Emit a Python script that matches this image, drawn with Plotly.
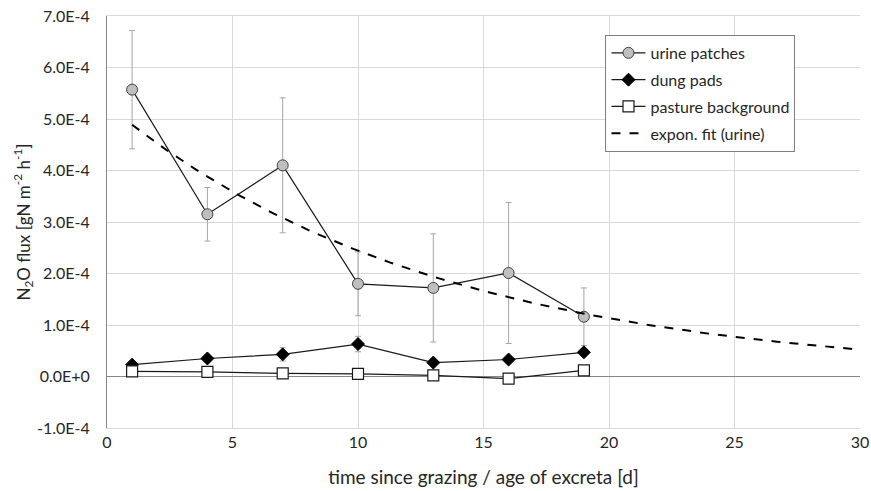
import numpy as np
import plotly.graph_objects as go

# sampling days (age of excreta)
days = [1, 4, 7, 10, 13, 16, 19]

# N2O flux, gN m-2 h-1
urine_flux = [5.57e-4, 3.15e-4, 4.10e-4, 1.80e-4, 1.72e-4, 2.01e-4, 1.16e-4]
urine_err = [1.15e-4, 0.52e-4, 1.31e-4, 0.62e-4, 1.05e-4, 1.37e-4, 0.56e-4]

dung_flux = [0.23e-4, 0.35e-4, 0.43e-4, 0.63e-4, 0.27e-4, 0.33e-4, 0.47e-4]
dung_err = [0.06e-4, 0.06e-4, 0.13e-4, 0.15e-4, 0.06e-4, 0.06e-4, 0.06e-4]

pasture_flux = [0.10e-4, 0.09e-4, 0.06e-4, 0.05e-4, 0.02e-4, -0.04e-4, 0.12e-4]

y_tick_vals = [-1e-4, 0, 1e-4, 2e-4, 3e-4, 4e-4, 5e-4, 6e-4, 7e-4]
y_tick_text = ["-1.0E-4", "0.0E+0", "1.0E-4", "2.0E-4", "3.0E-4",
               "4.0E-4", "5.0E-4", "6.0E-4", "7.0E-4"]
x_tick_vals = [0, 5, 10, 15, 20, 25, 30]

# exponential trendline fitted to the urine patch means (log-linear least squares),
# extended forward to day 30
slope, intercept = np.polyfit(days, np.log(urine_flux), 1)
fit_x = np.linspace(days[0], 30, 150)
fit_y = np.exp(intercept) * np.exp(slope * fit_x)

FONT = "Lato"
TEXT = "#262626"
GRID = "#d9d9d9"
AXIS = "#868686"
ERR = "#a6a6a6"

fig = go.Figure()

fig.add_trace(go.Scatter(
    x=days, y=urine_flux, name="urine patches", mode="lines+markers",
    legendgroup="a",
    line=dict(color="#1a1a1a", width=1.2),
    marker=dict(symbol="circle", size=11, color="#bfbfbf",
                line=dict(color="#404040", width=1)),
    error_y=dict(type="data", array=urine_err, visible=True,
                 color=ERR, thickness=1, width=3),
))
fig.add_trace(go.Scatter(
    x=days, y=dung_flux, name="dung pads", mode="lines+markers",
    legendgroup="b",
    line=dict(color="#1a1a1a", width=1.2),
    marker=dict(symbol="diamond", size=10, color="#000000",
                line=dict(color="#000000", width=1)),
    error_y=dict(type="data", array=dung_err, visible=True,
                 color=ERR, thickness=1, width=3),
))
fig.add_trace(go.Scatter(
    x=days, y=pasture_flux, name="pasture background", mode="lines+markers",
    legendgroup="c",
    line=dict(color="#1a1a1a", width=1.2),
    marker=dict(symbol="square", size=11, color="#ffffff",
                line=dict(color="#1a1a1a", width=1.2)),
))
fig.add_trace(go.Scatter(
    x=fit_x, y=fit_y, name="expon. fit (urine)", mode="lines",
    legendgroup="d",
    line=dict(color="#000000", width=2, dash="dash"),
))

fig.update_layout(
    width=871, height=491,
    margin=dict(l=107, r=11, t=16, b=63, autoexpand=False),
    paper_bgcolor="#ffffff", plot_bgcolor="#ffffff",
    font=dict(family=FONT, size=15, color=TEXT),
    showlegend=True,
    legend=dict(
        x=0.662, y=0.954, xanchor="left", yanchor="top",
        bgcolor="#ffffff", bordercolor="#7f7f7f", borderwidth=1,
        font=dict(family=FONT, size=16, color=TEXT),
        tracegroupgap=3, itemwidth=34,
    ),
)

fig.update_xaxes(
    range=[0, 30], tickvals=x_tick_vals, ticks="",
    showgrid=True, gridcolor=GRID, gridwidth=1,
    showline=True, linecolor=GRID, mirror=True,
    zeroline=False,
    tickfont=dict(family=FONT, size=16, color=TEXT),
    title=dict(text="time since grazing / age of excreta [d]",
               font=dict(family=FONT, size=19, color=TEXT), standoff=20),
)
fig.update_yaxes(
    range=[-1e-4, 7e-4], tickvals=y_tick_vals, ticktext=y_tick_text, ticks="",
    showgrid=True, gridcolor=GRID, gridwidth=1,
    showline=True, linecolor=AXIS, mirror=False,
    zeroline=True, zerolinecolor=AXIS, zerolinewidth=1.2,
    tickfont=dict(family=FONT, size=16, color=TEXT),
    ticklabelstandoff=13,
    title=dict(text="N<sub>2</sub>O flux [gN m<sup>-2</sup> h<sup>-1</sup>]",
               font=dict(family=FONT, size=17, color=TEXT), standoff=2),
)

fig.write_html("out.html")
